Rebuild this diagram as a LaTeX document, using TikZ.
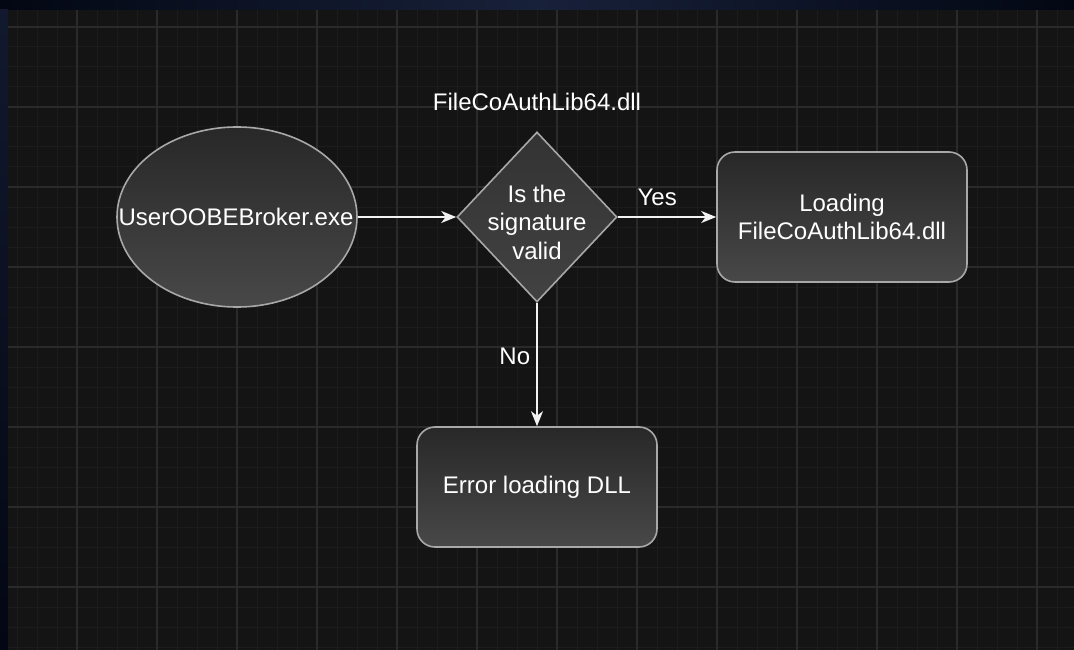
\documentclass[tikz,border=0pt]{standalone}
\usepackage{fontspec}
\setmainfont{Liberation Sans}
\usetikzlibrary{shapes.geometric,arrows.meta}

\definecolor{canvas}{HTML}{141414}
\definecolor{gridminor}{HTML}{1C1C1C}
\definecolor{gridmajor}{HTML}{2A2A2A}
\definecolor{shapeedge}{HTML}{A8A8A8}
\definecolor{shapetop}{HTML}{282828}
\definecolor{shapebottom}{HTML}{484848}
\definecolor{diamondtop}{HTML}{333333}
\definecolor{diamondbottom}{HTML}{424242}
\definecolor{navydark}{HTML}{030713}
\definecolor{navymid}{HTML}{18213A}
\definecolor{flowline}{HTML}{F2F2F2}

\tikzset{
  shapebase/.style={draw=shapeedge, line width=1.6pt,
    top color=shapetop, bottom color=shapebottom,
    text=white, align=center, inner sep=0pt,
    font=\fontsize{24}{28.5}\selectfont},
  startnode/.style={shapebase, ellipse, minimum width=240pt, minimum height=180pt},
  decisionnode/.style={shapebase, diamond, minimum width=160pt, minimum height=170pt,
    top color=diamondtop, bottom color=diamondbottom},
  boxnode/.style={shapebase, rectangle, rounded corners=18pt},
  caption/.style={text=white, inner sep=0pt, font=\fontsize{24}{28.5}\selectfont, align=center},
  flow/.style={draw=flowline, line width=1.8pt,
    -{Stealth[length=15pt,width=12pt,inset=4.5pt]}},
}

\begin{document}
\begin{tikzpicture}[x=1pt,y=-1pt]
  \useasboundingbox (0,0) rectangle (1074,650);

  % dark navy frame behind the canvas
  \shade[left color=navydark, right color=navymid] (0,0) rectangle (537,10);
  \shade[left color=navymid, right color=navydark] (537,0) rectangle (1074,10);
  \shade[top color=navymid!70!navydark, bottom color=navydark] (0,10) rectangle (8,650);

  % canvas with grid
  \fill[canvas] (8,10) rectangle (1074,650);
  \begin{scope}
    \clip (8,10) rectangle (1074,650);
    \foreach \x in {17,37,...,1074} \draw[gridminor, line width=1pt] (\x,10) -- (\x,650);
    \foreach \y in {27,47,...,650} \draw[gridminor, line width=1pt] (8,\y) -- (1074,\y);
    \foreach \x in {77,157,...,1074} \draw[gridmajor, line width=1.2pt] (\x,10) -- (\x,650);
    \foreach \y in {27,107,...,650} \draw[gridmajor, line width=1.2pt] (8,\y) -- (1074,\y);
  \end{scope}

  % flowchart nodes
  \node[startnode] (broker) at (237,217) {};
  \node[caption] (brokertext) at (236,217) {UserOOBEBroker.exe};
  \node[decisionnode] (check) at (537,217) {};
  \node[caption] (checktext) at (537,222) {Is the\\signature\\valid};
  \node[caption] (dllname) at (537,102) {FileCoAuthLib64.dll};
  \node[boxnode, minimum width=250pt, minimum height=130pt] (load) at (842,217)
    {Loading\\FileCoAuthLib64.dll};
  \node[boxnode, minimum width=240pt, minimum height=120pt] (error) at (537,487)
    {Error loading DLL};

  % connectors
  \draw[flow] (broker.east) -- (check.west);
  \draw[flow] (check.east) -- (load.west)
    node[caption, pos=0.4, above=10pt] (yes) {Yes};
  \draw[flow] (check.south) -- (error.north)
    node[caption, pos=0.43, left=6pt] (no) {No};
\end{tikzpicture}
\end{document}
